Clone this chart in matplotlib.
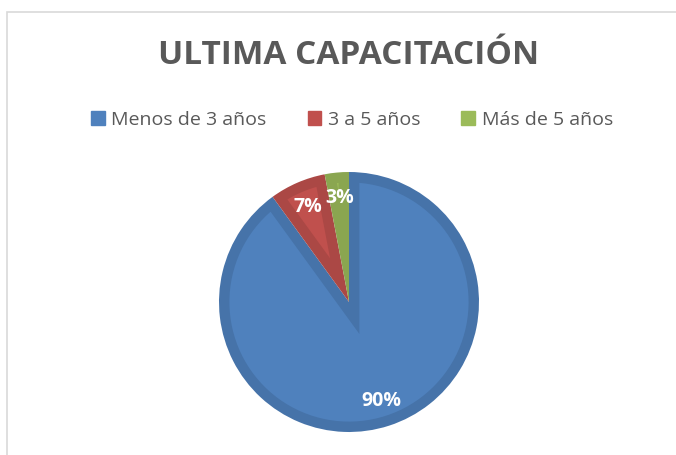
import numpy as np
import matplotlib.pyplot as plt
from matplotlib.patches import Rectangle, Polygon

categories = ["Menos de 3 años", "3 a 5 años", "Más de 5 años"]
values = [90, 7, 3]
colors = ["#4F81BD", "#C0504D", "#9BBB59"]
edge_colors = ["#4673A9", "#AB4845", "#8AA650"]
title = "ULTIMA CAPACITACIÓN"

W, H = 676, 455
fig = plt.figure(figsize=(W / 100, H / 100), dpi=100)
fig.patch.set_facecolor("white")

# chart area border (only left/top visible in the crop)
fig.add_artist(Rectangle((7 / W, -0.1), 1.2, (H - 12) / H + 0.1, transform=fig.transFigure,
                         fill=False, edgecolor="#D9D9D9", linewidth=1.2))

cx, cy, r = 349, 302, 130
ax = fig.add_axes([(cx - r) / W, (H - cy - r) / H, 2 * r / W, 2 * r / H])
wedges, texts, autotexts = ax.pie(values, colors=edge_colors, startangle=90, counterclock=False,
                                  autopct="%1.0f%%", pctdistance=0.8, radius=1,
                                  wedgeprops=dict(linewidth=0),
                                  textprops=dict(color="white", fontsize=14, fontweight="bold",
                                                 family="Open Sans"))

# bevel look: lighter inset shape inside every wedge
d = 0.08
for w, c in zip(wedges, colors):
    t1, t2 = np.radians(w.theta1), np.radians(w.theta2)
    R = w.r
    half = (t2 - t1) / 2
    mid = t1 + half
    center = np.array(w.center)
    v = center + d / np.sin(half) * np.array([np.cos(mid), np.sin(mid)])
    delta = np.arctan2(d, np.sqrt((R - d) ** 2 - d ** 2))
    a = np.linspace(t1 + delta, t2 - delta, 100)
    arc = np.column_stack([center[0] + (R - d) * np.cos(a), center[1] + (R - d) * np.sin(a)])
    pts = np.vstack([v, arc])
    ax.add_patch(Polygon(pts, closed=True, facecolor=c, edgecolor="none", zorder=1.5))
for t in autotexts:
    t.set_zorder(5)

ax.set_xlim(-1, 1)
ax.set_ylim(-1, 1)
ax.set_aspect("equal")
ax.axis("off")

fig.text(cx / W, 1 - 56 / H, title, ha="center", va="center", fontsize=24,
         fontweight="bold", color="#595959", family="Open Sans")

handles = [Rectangle((0, 0), 1, 1, color=c) for c in colors]
fig.legend(handles, categories, loc="center", bbox_to_anchor=(352 / W, 1 - 120 / H), ncol=3,
           frameon=False, handlelength=0.7, handleheight=0.7,
           handletextpad=0.35, columnspacing=2.1, labelcolor="#595959",
           prop=dict(family="Open Sans", size=14))

fig.savefig("out.png", dpi=100)
